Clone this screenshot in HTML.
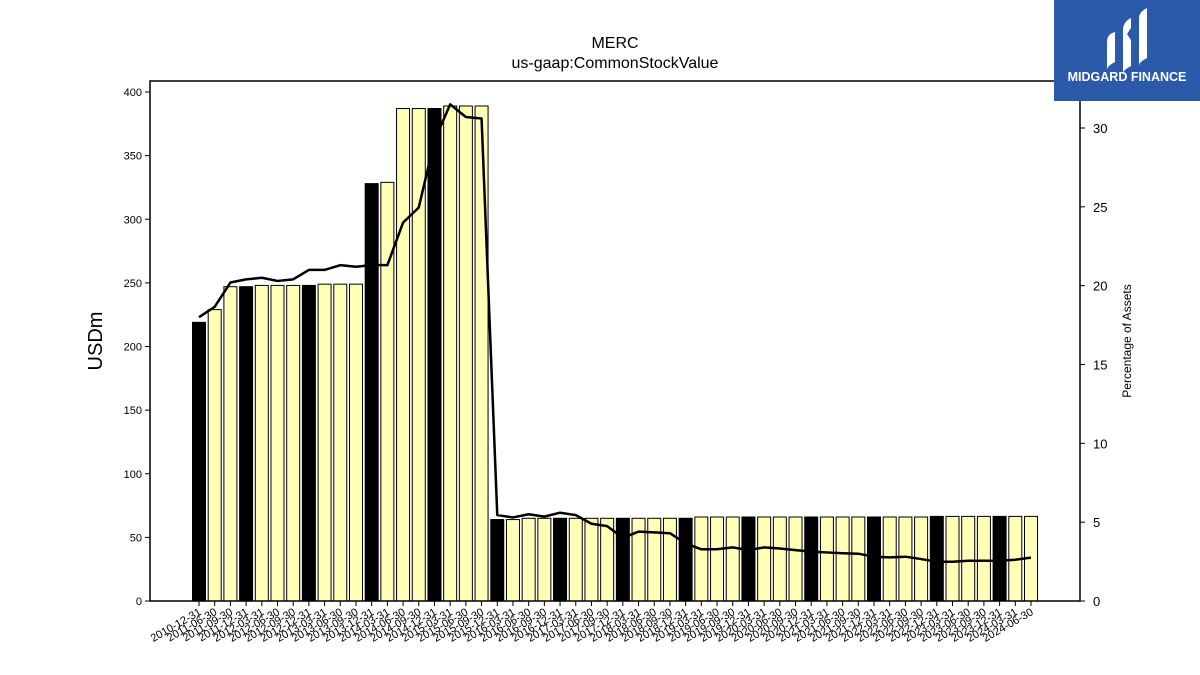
<!DOCTYPE html>
<html><head><meta charset="utf-8"><style>
body{margin:0;background:#fff;}
svg{display:block;font-family:"Liberation Sans","DejaVu Sans",sans-serif;}
</style></head><body>
<svg id="chart" width="1200" height="675" viewBox="0 0 1200 675">
<text x="615" y="48" text-anchor="middle" font-size="16">MERC</text>
<text x="615" y="68" text-anchor="middle" font-size="16">us-gaap:CommonStockValue</text>
<text transform="translate(102,341) rotate(-90)" text-anchor="middle" font-size="20">USDm</text>
<text transform="translate(1131,341) rotate(-90)" text-anchor="middle" font-size="12">Percentage of Assets</text>
<g id="bars"></g>
<g id="line"></g>
<g id="axes"></g>
<rect x="150" y="81" width="930" height="520" fill="none" stroke="#000" stroke-width="1.5"/>
<g>
<rect x="1054" y="0" width="146" height="101" fill="#2c5aab"/>
<path d="M1107 42 q0-8 8-10 v30 q-8 4-8 8z M1123 30 q0-8 8-12 v10 l-4 6 4 6 v26 q-8 4-8 8z M1139 18 q0-6 8-10 v50 q-8 4-8 8z" fill="#fff"/>
<text x="1127" y="81" text-anchor="middle" font-size="12.5" font-weight="bold" fill="#fff">MIDGARD FINANCE</text>
</g>
</svg>
<script>
const categories=["2010-12-31","2011-06-30","2011-09-30","2011-12-31","2012-03-31","2012-06-30","2012-09-30","2012-12-31","2013-03-31","2013-06-30","2013-09-30","2013-12-31","2014-03-31","2014-06-30","2014-09-30","2014-12-31","2015-03-31","2015-06-30","2015-09-30","2015-12-31","2016-03-31","2016-06-30","2016-09-30","2016-12-31","2017-03-31","2017-06-30","2017-09-30","2017-12-31","2018-03-31","2018-06-30","2018-09-30","2018-12-31","2019-03-31","2019-06-30","2019-09-30","2019-12-31","2020-03-31","2020-06-30","2020-09-30","2020-12-31","2021-03-31","2021-06-30","2021-09-30","2021-12-31","2022-03-31","2022-06-30","2022-09-30","2022-12-31","2023-03-31","2023-06-30","2023-09-30","2023-12-31","2024-03-31","2024-06-30"];
const values=[219,229,247,247,248,248,248,248,249,249,249,328,329,387,387,387,389,389,389,64,64,65,65,65,65,65,65,65,65,65,65,65,66,66,66,66,66,66,66,66,66,66,66,66,66,66,66,66.5,66.5,66.5,66.5,66.5,66.5,66.5];
const pct=[18.0,18.66,20.2,20.4,20.5,20.3,20.4,21.0,21.0,21.3,21.2,21.3,21.3,24.0,24.96,29.2,31.5,30.7,30.6,5.45,5.3,5.5,5.35,5.6,5.45,4.9,4.75,4.0,4.4,4.35,4.3,3.65,3.28,3.28,3.4,3.23,3.4,3.33,3.23,3.13,3.08,3.03,3.0,2.81,2.77,2.81,2.66,2.49,2.49,2.55,2.55,2.55,2.62,2.75];
const leftTicks=[0,50,100,150,200,250,300,350,400];
const rightTicks=[0,5,10,15,20,25,30];
const NS="http://www.w3.org/2000/svg";
const x=i=>199+i*(832/(categories.length-1));
const y=v=>601-v*(509/400);
const y2=v=>601-v*(473/30);
function mk(t,a,p){const e=document.createElementNS(NS,t);for(const k in a)e.setAttribute(k,a[k]);p.appendChild(e);return e;}
const bars=document.getElementById('bars');
values.forEach((v,i)=>{
 const black=categories[i].endsWith('12-31');
 const r=mk('rect',{x:x(i)-6.5,y:y(v),width:13,height:601-y(v),fill:black?'#000':'#ffffb8',stroke:'#000','stroke-width':1},bars);
 
 
});
const ln=document.getElementById('line');
const pl=mk('polyline',{points:pct.map((p,i)=>x(i)+','+y2(p)).join(' '),fill:'none',stroke:'#000','stroke-width':2.5,'stroke-linejoin':'round'},ln);


const ax=document.getElementById('axes');
leftTicks.forEach(t=>{
 mk('line',{x1:145,x2:150,y1:y(t),y2:y(t),stroke:'#000'},ax);
 const tx=mk('text',{x:142,y:y(t)+4,'text-anchor':'end','font-size':11},ax);tx.textContent=t;
 
 
});
rightTicks.forEach(t=>{
 mk('line',{x1:1080,x2:1085,y1:y2(t),y2:y2(t),stroke:'#000'},ax);
 const tx=mk('text',{x:1093,y:y2(t)+5,'font-size':13},ax);tx.textContent=t;
 
 
});
categories.forEach((c,i)=>{
 mk('line',{x1:x(i),x2:x(i),y1:601,y2:606,stroke:'#000'},ax);
 const tx=mk('text',{'text-anchor':'end','font-size':11,transform:`translate(${x(i)+3},${614}) rotate(-30)`},ax);tx.textContent=c;
 
 
});
</script>
</body></html>
